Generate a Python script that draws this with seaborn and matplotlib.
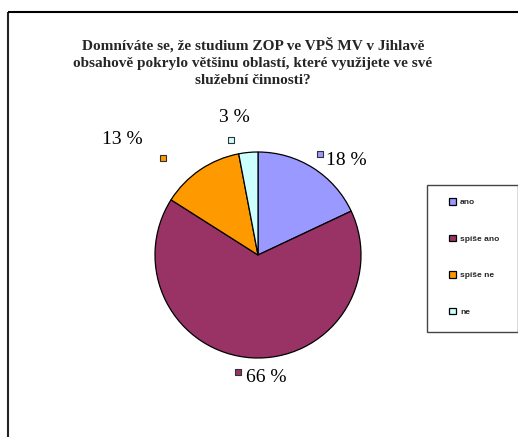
import numpy as np
import matplotlib
matplotlib.use("Agg")
import matplotlib.pyplot as plt
from matplotlib.patches import Rectangle
import seaborn as sns

# data
categories = ["ano", "spíše ano", "spíše ne", "ne"]
shares = [18, 66, 13, 3]
colors_hex = ["#9999FF", "#993366", "#FF9900", "#CCFFFF"]
title = ("Domníváte se, že studium ZOP ve VPŠ MV v Jihlavě\n"
         "obsahově pokrylo většinu oblastí, které využijete ve své\n"
         "služební činnosti?")

sns.set_theme(style="white")
plt.rcParams["font.family"] = ["Liberation Serif", "DejaVu Serif"]

W, H = 518, 437
fig = plt.figure(figsize=(W / 100, H / 100), dpi=100)
ax = fig.add_axes([0, 0, 1, 1])
palette = sns.color_palette(colors_hex)

cx, cy, R = 258, H - 255, 103
wedges, _ = ax.pie(shares, colors=palette, startangle=90, counterclock=False,
                   center=(cx, cy), radius=R,
                   wedgeprops=dict(edgecolor="black", linewidth=0.9))
ax.set_xlim(0, W)
ax.set_ylim(0, H)
ax.set_aspect("equal")
ax.axis("off")

# data labels: little key square + value, placed around the pie
mark_r = [1.15, 1.15, 1.32, 1.15]
mark_dang = [1, -6, 10, 8]
txt_off = [(6, -7, "left"), (8, -6, "left"), (-41, 18, "center"), (4, 22, "center")]
total = sum(shares)
cum = 0
for i, v in enumerate(shares):
    mid = 90 - 360 * (cum + v / 2) / total
    cum += v
    a = np.deg2rad(mid + mark_dang[i])
    mx = cx + mark_r[i] * R * np.cos(a)
    my = cy + mark_r[i] * R * np.sin(a)
    ax.scatter([mx], [my], marker="s", s=24, color=palette[i],
               edgecolor="#333333", linewidth=0.8, zorder=5)
    dx, dy, ha = txt_off[i]
    ax.annotate(f"{v} %", xy=(mx, my), xytext=(dx, dy), textcoords="offset pixels",
                ha=ha, va="center", fontsize=14, color="black")

# title
ax.text(253, H - 62, title, ha="center", va="center", fontsize=11,
        fontweight="bold", linespacing=1.38, multialignment="center")

# chart area border (cropped on right/bottom)
ax.plot([8, 8], [0, H - 12], color="#222222", lw=1.5, solid_capstyle="butt")
ax.plot([8, W], [H - 12, H - 12], color="black", lw=1.5, solid_capstyle="butt")

# legend box + entries
ax.add_patch(Rectangle((427, H - 332), 91, 147, fill=False, edgecolor="#444444", lw=1))
leg = ax.legend(wedges, categories, loc="upper left",
                bbox_to_anchor=(449 / W, (H - 198) / H), frameon=False,
                prop={"family": "Liberation Sans", "weight": "bold", "size": 6},
                handlelength=0.85, handleheight=0.85, handletextpad=0.5,
                labelspacing=3.4, borderpad=0, borderaxespad=0)

fig.savefig("out.png", dpi=100)
